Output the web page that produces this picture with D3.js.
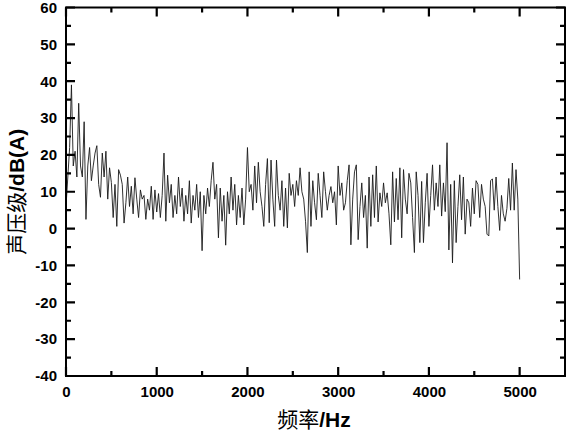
<!DOCTYPE html>
<html>
<head>
<meta charset="utf-8">
<script src="https://cdn.jsdelivr.net/npm/d3@7"></script>
<style>
  body { margin: 0; background: #fff; }
  text { font-family: "Liberation Sans", Arial, sans-serif; }
</style>
</head>
<body>
<div id="canvas"></div>
<script>
"use strict"

/* sound pressure level spectrum, one reading every 20 Hz from 0 to 5000 Hz */
let freqStep = 20;
let levels = [
  6, 14, 22, 39, 17, 21, 14, 34, 17, 14,
  29, 2.5, 17, 22, 13, 17, 20.5, 22.5, 12, 8.5,
  20.5, 14, 21, 8, 16.5, 12.5, 3, 12, 0.6, 16,
  14.5, 12, 1.5, 7, 14, 6, 11.5, 4, 13.8, 8,
  3, 10.5, 8, 9, 2.5, 8, 5, 11.5, 2.5, 10.5,
  4.5, 9.5, 3, 9, 20.5, 2, 14.5, 7, 12, 3,
  9, 4, 14, 6, 11, 2, 9, 4, 13, 1.5,
  9, 5, 12, 3, 10, -6, 9, 4, 11, 6,
  13, 18, 8, 12, -2.5, 11, 2, 9, -4.5, 10,
  4, 14, 5, 12, 1, 9, 3, 11, 1, 8,
  22, 10, 12, 5, 17, 7, 18, 10, 6, 0.6,
  12, 19, 1.6, 18.6, 8, 0.6, 18.6, 9, 5, 13,
  0.6, 11, 0.2, 15, 9, 12, 6, 13, 9, 16.5,
  10, 8, 2, -6.5, 15.4, 0.6, 13, 7, 2.4, 15,
  9, 3, 15.4, 10, 5, 9, 11.4, 7, 10, 1,
  17, 9, 12.4, 5, 7, 13, 17.3, -4.4, 8, 15.4,
  17.3, -3, 6, 12.4, 3, 9, -5.3, 14, 0.6, 14.6,
  3, 17, 1.8, 9.7, 6, 12.4, 7, 9.7, 4, -4.4,
  15.4, 1.8, 13.6, 2.4, 16.5, -2.5, 16, 8, 4, 15,
  12.4, 3, -6.5, 15.4, 9, -3.8, 12.8, -3.8, 7, 15,
  0.6, 9, 17.3, 5, 12.4, 6, 17.3, 3.4, 12.4, 4.6,
  23.3, -5.8, 12, -9.3, 13, -3.8, 6, 14.6, 2.4, 14,
  -1.5, 8, 7, 0.6, 11, 4, 13, 12, 3, 12,
  8, 6, -1.5, -2, 13, 13.5, 5, 14, 6, -0.5,
  9, 4, 2, 5.5, 13.6, 5, 17.8, 5, 16, 8,
  -13.8
];

let xMajor = [0, 1000, 2000, 3000, 4000, 5000];
let xMinor = [500, 1500, 2500, 3500, 4500];
let yMajor = [-40, -30, -20, -10, 0, 10, 20, 30, 40, 50, 60];
let yMinor = [-35, -25, -15, -5, 5, 15, 25, 35, 45, 55];

let xTitle = ["频率", "/Hz"];
let yTitle = ["声压级", "/dB(A)"];

/* set up the drawing canvas */
let width = 567, height = 432;
let plotLeft = 66, plotRight = 565, plotTop = 7.5, plotBottom = 376;

let drawing = d3.select("#canvas")
    .append("svg")
    .attr("width", width)
    .attr("height", height);

let x = d3.scaleLinear().domain([0, 5500]).range([plotLeft, plotRight]);
let y = d3.scaleLinear().domain([-40, 60]).range([plotBottom, plotTop]);

let points = levels.map((v, i) => [i * freqStep, v]);

// the spectrum line
drawing.append("path")
    .datum(points)
    .attr("d", d3.line().x(d => x(d[0])).y(d => y(d[1])))
    .attr("fill", "none")
    .attr("stroke", "#1a1a1a")
    .attr("stroke-width", 0.9)
    .attr("stroke-linejoin", "round");

// tick labels from d3 axes (tick lines drawn below)
function labelAxis(axisFn, scale, ticks, pad, transform) {
    let g = drawing.append("g")
        .attr("transform", transform)
        .call(axisFn(scale).tickValues(ticks).tickSize(0).tickPadding(pad).tickFormat(d => String(d)));
    g.select(".domain").remove();
    g.selectAll("text")
        .attr("font-size", 15)
        .attr("font-weight", "bold")
        .attr("fill", "#000");
}
labelAxis(d3.axisBottom, x, xMajor, 10, `translate(0,${plotBottom})`);
labelAxis(d3.axisLeft, y, yMajor, 9, `translate(${plotLeft},0)`);

// inward tick marks on all four sides as one path, minor ones shorter
let tickPath = d3.path();
function xTicks(values, len) {
    values.forEach(d => {
        tickPath.moveTo(x(d), plotBottom);
        tickPath.lineTo(x(d), plotBottom - len);
        tickPath.moveTo(x(d), plotTop);
        tickPath.lineTo(x(d), plotTop + len);
    });
}
function yTicks(values, len) {
    values.forEach(d => {
        tickPath.moveTo(plotLeft, y(d));
        tickPath.lineTo(plotLeft + len, y(d));
        tickPath.moveTo(plotRight, y(d));
        tickPath.lineTo(plotRight - len, y(d));
    });
}
xTicks(xMajor, 9);
xTicks(xMinor, 5);
yTicks(yMajor, 9);
yTicks(yMinor, 5);

drawing.append("path")
    .attr("d", tickPath.toString())
    .attr("fill", "none")
    .attr("stroke", "#000")
    .attr("stroke-width", 2.2);

// plot frame
drawing.append("rect")
    .attr("x", plotLeft)
    .attr("y", plotTop)
    .attr("width", plotRight - plotLeft)
    .attr("height", plotBottom - plotTop)
    .attr("fill", "none")
    .attr("stroke", "#000")
    .attr("stroke-width", 2);

// axis titles: chinese part regular, units bold
let xLabel = drawing.append("text")
    .attr("x", 314)
    .attr("y", 427)
    .attr("text-anchor", "middle")
    .attr("font-size", 21);
xLabel.append("tspan").attr("font-family", "'Noto Sans CJK SC'").text(xTitle[0]);
xLabel.append("tspan").attr("font-weight", "bold").text(xTitle[1]);

let yLabel = drawing.append("text")
    .attr("transform", `translate(24,${(plotTop + plotBottom) / 2}) rotate(-90)`)
    .attr("text-anchor", "middle")
    .attr("font-size", 21);
yLabel.append("tspan").attr("font-family", "'Noto Sans CJK SC'").text(yTitle[0]);
yLabel.append("tspan").attr("font-weight", "bold").text(yTitle[1]);
</script>
</body>
</html>
